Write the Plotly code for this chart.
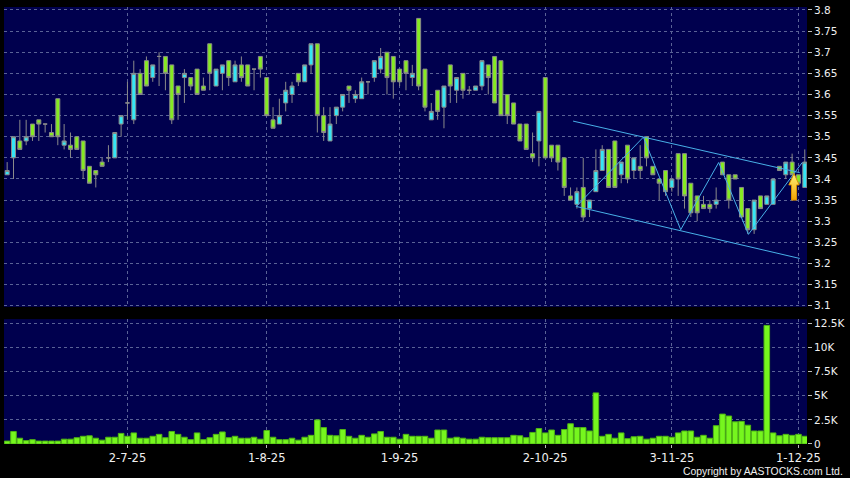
import plotly.graph_objects as go

# ---------------- data ----------------
OPEN = [3.41, 3.45, 3.49, 3.49, 3.53, 3.54, 3.53, 3.51, 3.59, 3.48,
        3.48, 3.50, 3.49, 3.43, 3.42, 3.44, 3.45, 3.45, 3.53, 3.58,
        3.54, 3.65, 3.68, 3.64, 3.69, 3.69, 3.67, 3.62, 3.64, 3.64,
        3.66, 3.62, 3.72, 3.62, 3.65, 3.68, 3.63, 3.67, 3.67, 3.66,
        3.69, 3.64, 3.54, 3.53, 3.58, 3.60, 3.65, 3.63, 3.67, 3.72,
        3.55, 3.49, 3.55, 3.57, 3.62, 3.59, 3.59, 3.63, 3.64, 3.66,
        3.70, 3.69, 3.66, 3.68, 3.64, 3.78, 3.66, 3.54, 3.61, 3.57,
        3.67, 3.61, 3.65, 3.61, 3.61, 3.62, 3.67, 3.69, 3.68, 3.60,
        3.58, 3.53, 3.53, 3.46, 3.49, 3.64, 3.48, 3.48, 3.45, 3.36,
        3.34, 3.38, 3.33, 3.37, 3.42, 3.47, 3.49, 3.41, 3.48, 3.42,
        3.43, 3.50, 3.43, 3.40, 3.42, 3.38, 3.46, 3.46, 3.39, 3.36,
        3.34, 3.34, 3.34, 3.44, 3.41, 3.41, 3.38, 3.33, 3.28, 3.36,
        3.34, 3.34, 3.43, 3.41, 3.44, 3.41, 3.38]
HIGH = [3.44, 3.50, 3.54, 3.54, 3.53, 3.54, 3.53, 3.53, 3.59, 3.53,
        3.51, 3.50, 3.49, 3.43, 3.42, 3.45, 3.48, 3.51, 3.55, 3.63,
        3.68, 3.66, 3.69, 3.67, 3.70, 3.69, 3.67, 3.62, 3.66, 3.64,
        3.66, 3.64, 3.72, 3.66, 3.67, 3.68, 3.68, 3.69, 3.67, 3.66,
        3.69, 3.64, 3.57, 3.59, 3.63, 3.63, 3.65, 3.67, 3.72, 3.72,
        3.57, 3.57, 3.57, 3.60, 3.62, 3.61, 3.64, 3.63, 3.68, 3.71,
        3.70, 3.69, 3.66, 3.68, 3.67, 3.78, 3.66, 3.58, 3.61, 3.62,
        3.67, 3.64, 3.65, 3.62, 3.62, 3.68, 3.67, 3.69, 3.68, 3.60,
        3.58, 3.53, 3.53, 3.51, 3.56, 3.64, 3.48, 3.48, 3.45, 3.38,
        3.38, 3.45, 3.35, 3.47, 3.48, 3.47, 3.49, 3.44, 3.48, 3.45,
        3.48, 3.50, 3.43, 3.40, 3.42, 3.40, 3.46, 3.46, 3.39, 3.36,
        3.36, 3.35, 3.38, 3.44, 3.41, 3.41, 3.38, 3.33, 3.35, 3.36,
        3.36, 3.40, 3.43, 3.44, 3.46, 3.41, 3.47]
LOW = [3.41, 3.40, 3.47, 3.48, 3.49, 3.49, 3.51, 3.50, 3.48, 3.47,
       3.45, 3.47, 3.40, 3.39, 3.38, 3.43, 3.44, 3.45, 3.50, 3.54,
       3.53, 3.60, 3.62, 3.63, 3.62, 3.61, 3.53, 3.54, 3.58, 3.61,
       3.60, 3.61, 3.61, 3.62, 3.61, 3.62, 3.63, 3.63, 3.62, 3.61,
       3.64, 3.55, 3.52, 3.53, 3.56, 3.58, 3.62, 3.63, 3.65, 3.51,
       3.49, 3.49, 3.53, 3.56, 3.58, 3.58, 3.59, 3.60, 3.63, 3.65,
       3.60, 3.59, 3.62, 3.61, 3.62, 3.61, 3.56, 3.54, 3.54, 3.52,
       3.58, 3.58, 3.59, 3.60, 3.61, 3.61, 3.60, 3.58, 3.55, 3.53,
       3.53, 3.49, 3.47, 3.44, 3.43, 3.45, 3.44, 3.42, 3.36, 3.35,
       3.33, 3.30, 3.31, 3.37, 3.42, 3.38, 3.38, 3.39, 3.39, 3.40,
       3.40, 3.43, 3.41, 3.35, 3.36, 3.37, 3.36, 3.33, 3.31, 3.30,
       3.33, 3.32, 3.33, 3.41, 3.33, 3.40, 3.31, 3.27, 3.27, 3.33,
       3.34, 3.34, 3.42, 3.40, 3.41, 3.39, 3.38]
CLOSE = [3.42, 3.50, 3.47, 3.50, 3.50, 3.53, 3.53, 3.50, 3.50, 3.49,
         3.47, 3.47, 3.42, 3.39, 3.41, 3.43, 3.45, 3.51, 3.55, 3.58,
         3.65, 3.60, 3.62, 3.67, 3.69, 3.65, 3.54, 3.60, 3.65, 3.62,
         3.60, 3.61, 3.65, 3.66, 3.67, 3.64, 3.67, 3.64, 3.62, 3.66,
         3.66, 3.55, 3.52, 3.55, 3.61, 3.62, 3.63, 3.67, 3.72, 3.55,
         3.51, 3.53, 3.57, 3.60, 3.61, 3.60, 3.63, 3.63, 3.68, 3.69,
         3.64, 3.63, 3.63, 3.65, 3.65, 3.62, 3.57, 3.56, 3.56, 3.62,
         3.62, 3.64, 3.61, 3.61, 3.62, 3.68, 3.64, 3.58, 3.55, 3.55,
         3.53, 3.49, 3.47, 3.45, 3.56, 3.45, 3.45, 3.44, 3.38, 3.35,
         3.37, 3.31, 3.35, 3.42, 3.47, 3.38, 3.38, 3.44, 3.40, 3.45,
         3.42, 3.45, 3.41, 3.39, 3.37, 3.40, 3.40, 3.36, 3.32, 3.32,
         3.33, 3.33, 3.35, 3.41, 3.35, 3.40, 3.31, 3.28, 3.35, 3.33,
         3.36, 3.40, 3.42, 3.44, 3.41, 3.39, 3.44]
VOLUME = [300, 1300, 600, 350, 450, 300, 300, 300, 300, 500,
          500, 650, 800, 850, 600, 400, 700, 700, 1100, 800,
          1150, 600, 600, 800, 1000, 650, 1300, 1000, 700, 450,
          1150, 450, 650, 1000, 1250, 650, 800, 600, 600, 700,
          500, 1400, 700, 450, 450, 600, 400, 700, 900, 2500,
          1700, 900, 850, 1500, 800, 600, 900, 700, 1050, 1300,
          700, 700, 500, 1000, 800, 800, 800, 600, 1450, 1450,
          600, 700, 600, 500, 500, 700, 650, 650, 650, 650,
          900, 850, 650, 1200, 1600, 1150, 1450, 900, 1500, 2100,
          1700, 1700, 1350, 5300, 800, 1000, 600, 1150, 550, 750,
          800, 500, 600, 800, 800, 700, 1150, 1350, 1350, 700,
          900, 600, 1900, 3100, 2900, 2300, 2350, 1950, 1350, 1350,
          12300, 1150, 850, 1000, 900, 1000, 800]

DATE_TICK_LABELS = ["2-7-25", "1-8-25", "1-9-25", "2-10-25", "3-11-25", "1-12-25"]
DATE_TICK_INDEX = [19, 41, 62, 85, 105, 125]
PRICE_TICKS = [3.1, 3.15, 3.2, 3.25, 3.3, 3.35, 3.4, 3.45, 3.5, 3.55, 3.6, 3.65, 3.7, 3.75, 3.8]
VOL_TICKS = [0, 2500, 5000, 7500, 10000, 12500]
VOL_TICK_LABELS = ["0", "2.5K", "5K", "7.5K", "10K", "12.5K"]

# user-drawn annotations (candle index, price)
CHANNEL_UPPER_X = [89.4, 125.2]
CHANNEL_UPPER_Y = [3.537, 3.415]
CHANNEL_LOWER_X = [89.9, 125.2]
CHANNEL_LOWER_Y = [3.335, 3.212]
ZIGZAG_X = [89.9, 100.5, 106.4, 112.4, 117.1, 125.6]
ZIGZAG_Y = [3.335, 3.499, 3.280, 3.439, 3.269, 3.439]
ARROW_X = 124.3
ARROW_TIP = 3.413
ARROW_NECK = 3.386
ARROW_BASE = 3.350

# ---------------- styling ----------------
BG = "#00004E"
CYAN = "#35E6F5"
GREEN = "#86EA22"
EDGE = "#8A8A8A"
VGREEN = "#76F61E"
VEDGE = "#4FB514"
GRID = "#5A6296"
LINE = "#48B0E8"
TXT = "#F0F0F0"
FONT = "DejaVu Sans"

X = list(range(len(OPEN)))
XR = [-0.5, 126.35]

fig = go.Figure()
fig.add_trace(go.Candlestick(
    x=X, open=OPEN, high=HIGH, low=LOW, close=CLOSE, xaxis="x", yaxis="y",
    increasing=dict(fillcolor=CYAN, line=dict(color=EDGE, width=1)),
    decreasing=dict(fillcolor=GREEN, line=dict(color=EDGE, width=1)),
    whiskerwidth=0, showlegend=False, hoverinfo="skip"))

for xs, ys in [(CHANNEL_UPPER_X, CHANNEL_UPPER_Y), (CHANNEL_LOWER_X, CHANNEL_LOWER_Y), (ZIGZAG_X, ZIGZAG_Y)]:
    fig.add_trace(go.Scatter(x=xs, y=ys, mode="lines", line=dict(color=LINE, width=1),
                             xaxis="x", yaxis="y", showlegend=False, hoverinfo="skip"))

hw, sw = 0.82, 0.4
ax = [ARROW_X, ARROW_X + hw, ARROW_X + sw, ARROW_X + sw, ARROW_X - sw, ARROW_X - sw, ARROW_X - hw, ARROW_X]
ay = [ARROW_TIP, ARROW_NECK, ARROW_NECK, ARROW_BASE, ARROW_BASE, ARROW_NECK, ARROW_NECK, ARROW_TIP]
fig.add_trace(go.Scatter(x=ax, y=ay, mode="lines", fill="toself",
                         fillgradient=dict(type="vertical", colorscale=[[0, "#F2A200"], [1, "#FFF27A"]]),
                         line=dict(color="#D99100", width=1), xaxis="x", yaxis="y",
                         showlegend=False, hoverinfo="skip"))

fig.add_trace(go.Bar(x=X, y=VOLUME, xaxis="x2", yaxis="y2",
                     marker=dict(color=VGREEN, line=dict(color=VEDGE, width=1)),
                     showlegend=False, hoverinfo="skip"))

grid = dict(showgrid=True, gridcolor=GRID, gridwidth=1, griddash="3px,3px", zeroline=False, showline=False)
tf = dict(family=FONT, size=10.5, color=TXT)

fig.update_layout(
    width=850, height=478,
    margin=dict(l=4, r=43, t=6.5, b=34),
    paper_bgcolor="#000000", plot_bgcolor=BG,
    boxgap=0.1, bargap=0.12,
    hovermode=False,
    xaxis=dict(domain=[0, 1], range=XR, anchor="y", tickvals=DATE_TICK_INDEX,
               showticklabels=False, ticks="", rangeslider=dict(visible=False), **grid),
    xaxis2=dict(domain=[0, 1], range=XR, anchor="y2", matches="x", tickvals=DATE_TICK_INDEX,
                ticktext=DATE_TICK_LABELS, ticks="outside", ticklen=3, tickcolor="#BBBBBB",
                tickfont=dict(family=FONT, size=11.5, color=TXT), **grid),
    yaxis=dict(domain=[0.3138, 1], range=[3.0974, 3.807], side="right", anchor="x",
               tickvals=PRICE_TICKS, ticktext=[f"{v:g}" for v in PRICE_TICKS],
               ticks="outside", ticklen=4, tickcolor="#BBBBBB", tickfont=tf, **grid),
    yaxis2=dict(domain=[0, 0.2857], range=[0, 12950], side="right", anchor="x2",
                tickvals=VOL_TICKS, ticktext=VOL_TICK_LABELS,
                ticks="outside", ticklen=4, tickcolor="#BBBBBB", tickfont=tf, **grid),
    annotations=[dict(text="Copyright by AASTOCKS.com Ltd.", xref="paper", yref="paper",
                      x=1.0473, y=-0.064, xanchor="right", yanchor="middle", showarrow=False,
                      font=dict(family="Liberation Sans", size=10.4, color=TXT))],
)

fig.write_html("out.html", config={"displayModeBar": False, "staticPlot": True},
               post_script="document.body.style.margin='0px';document.body.style.background='#000';")
